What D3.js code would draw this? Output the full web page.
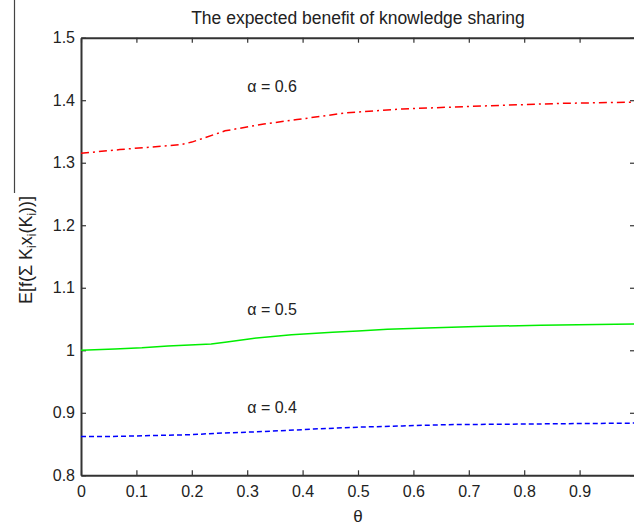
<!DOCTYPE html>
<html><head><meta charset="utf-8">
<script src="https://cdn.jsdelivr.net/npm/d3@7"></script>
<style>body{margin:0;background:#fff}svg{display:block}text{font-family:"Liberation Sans",Arial,sans-serif;fill:#222}</style>
</head><body><svg id="c" width="634" height="526"></svg>
<script>
const thetaRed   = [0, 0.07, 0.18, 0.20, 0.26, 0.33, 0.39, 0.48, 0.58, 0.70, 0.80, 0.87, 1.0];
const valuesRed  = [1.315, 1.321, 1.329, 1.333, 1.351, 1.362, 1.369, 1.380, 1.386, 1.390, 1.393, 1.395, 1.397];
const thetaGreen = [0, 0.061, 0.11, 0.157, 0.235, 0.26, 0.31, 0.38, 0.454, 0.50, 0.553, 0.624, 0.714, 0.83, 1.0];
const valuesGreen= [1.000, 1.002, 1.004, 1.007, 1.010, 1.013, 1.019, 1.025, 1.029, 1.031, 1.0335, 1.0355, 1.038, 1.040, 1.042];
const thetaBlue  = [0, 0.05, 0.20, 0.24, 0.33, 0.42, 0.50, 0.58, 0.66, 0.80, 1.0];
const valuesBlue = [0.862, 0.862, 0.865, 0.867, 0.870, 0.874, 0.877, 0.879, 0.881, 0.882, 0.8835];
const xTicks = [0, 0.1, 0.2, 0.3, 0.4, 0.5, 0.6, 0.7, 0.8, 0.9];
const xTickLabels = ["0","0.1","0.2","0.3","0.4","0.5","0.6","0.7","0.8","0.9"];
const yTicks = [0.8, 0.9, 1.0, 1.1, 1.2, 1.3, 1.4, 1.5];
const yTickLabels = ["0.8","0.9","1","1.1","1.2","1.3","1.4","1.5"];
const seriesLabels = ["α = 0.6", "α = 0.5", "α = 0.4"];
const labelAnchors = [[0.30, 1.413], [0.30, 1.056], [0.30, 0.900]];

const svg = d3.select("#c");
const L = 81, R = 635, T = 37.7, B = 475.3;
const x = d3.scaleLinear().domain([0, 1]).range([L, R]);
const y = d3.scaleLinear().domain([0.8, 1.5]).range([B, T]);
const axisCol = "#333";

// axes
const gB = svg.append("g").attr("transform", `translate(0,${B})`)
  .call(d3.axisBottom(x).tickValues(xTicks).tickFormat((d,i)=>xTickLabels[i]).tickSizeInner(-5).tickSizeOuter(0).tickPadding(10));
const gT = svg.append("g").attr("transform", `translate(0,${T})`)
  .call(d3.axisTop(x).tickValues(xTicks).tickFormat("").tickSizeInner(-5).tickSizeOuter(0));
const gL = svg.append("g").attr("transform", `translate(${L},0)`)
  .call(d3.axisLeft(y).tickValues(yTicks).tickFormat((d,i)=>yTickLabels[i]).tickSizeInner(-5).tickSizeOuter(0).tickPadding(6));
const gR = svg.append("g").attr("transform", `translate(${R},0)`)
  .call(d3.axisRight(y).tickValues(yTicks).tickFormat("").tickSizeInner(-5).tickSizeOuter(0));
[gB,gT,gL,gR].forEach(g=>{
  g.selectAll("path.domain").attr("stroke", axisCol).attr("stroke-width", 2);
  g.selectAll(".tick line").attr("stroke", axisCol).attr("stroke-width", 1.2);
  g.selectAll(".tick text").attr("font-size", 16).attr("fill", "#222").style("font-family",'"Liberation Sans",Arial,sans-serif');
});

// lines
const line = d3.line().x(d=>x(d[0])).y(d=>y(d[1]));
const series = [
  {t: thetaRed, v: valuesRed, c: "#ff0000", dash: "8,4,2,4"},
  {t: thetaGreen, v: valuesGreen, c: "#00ee00", dash: null},
  {t: thetaBlue, v: valuesBlue, c: "#0000ff", dash: "5,3"}
];
series.forEach(s=>{
  const p = svg.append("path").datum(s.t.map((t,i)=>[t, s.v[i]]))
    .attr("d", line).attr("fill","none").attr("stroke", s.c).attr("stroke-width", 1.5);
  if (s.dash) p.attr("stroke-dasharray", s.dash);
});

// series labels
seriesLabels.forEach((lab,i)=>{
  svg.append("text").attr("x", x(labelAnchors[i][0])).attr("y", y(labelAnchors[i][1]))
    .attr("font-size", 16).text(lab);
});

// title
svg.append("text").attr("x", (L+R)/2).attr("y", 24).attr("text-anchor","middle")
  .attr("font-size", 17.5).text("The expected benefit of knowledge sharing");

// x label
svg.append("text").attr("x", x(0.5)).attr("y", 522).attr("text-anchor","middle")
  .attr("font-size", 17).text("θ");

// y label
const yl = svg.append("text").attr("transform","translate(32,250) rotate(-90)")
  .attr("text-anchor","middle").attr("font-size", 18);
yl.append("tspan").text("E[f(Σ K");
yl.append("tspan").attr("font-size", 12).attr("baseline-shift","-30%").text("i");
yl.append("tspan").text("x");
yl.append("tspan").attr("font-size", 12).attr("baseline-shift","-30%").text("i");
yl.append("tspan").text("(K");
yl.append("tspan").attr("font-size", 12).attr("baseline-shift","-30%").text("i");
yl.append("tspan").text("))]");

svg.append("line").attr("x1",14.5).attr("x2",14.5).attr("y1",0).attr("y2",193)
  .attr("stroke","#444").attr("stroke-width",1.2);
</script></body></html>
